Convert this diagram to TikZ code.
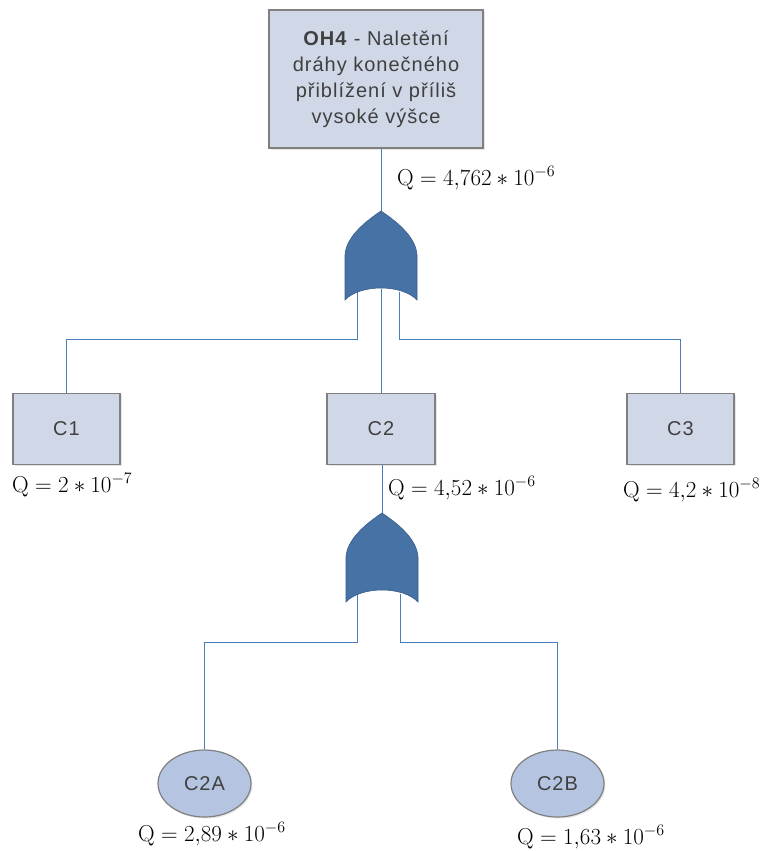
\documentclass[tikz,border=0pt]{standalone}
\usepackage[no-math]{fontspec}
\newfontfamily\boxfont[LetterSpace=5]{Liberation Sans}
\usetikzlibrary{shapes.geometric,shadows}

\definecolor{linkblue}{HTML}{4A7EBB}
\definecolor{gatefill}{HTML}{4672A6}
\definecolor{gateedge}{HTML}{3A5E88}
\definecolor{boxfill}{HTML}{D0D8E8}
\definecolor{boxline}{HTML}{808080}
\definecolor{basicfill}{HTML}{B4C4E1}
\definecolor{txt}{HTML}{404040}

% probability value, set a little larger than the nearest math size
\newcommand\qval[1]{\scalebox{1.11}{$\mathrm{Q} = #1$}}

\begin{document}
\begin{tikzpicture}[x=1pt,y=-1pt,
  event/.style={draw=boxline, line width=1.2pt, fill=boxfill, text=txt,
    font=\boxfont\fontsize{20}{26}\selectfont, align=center, inner sep=0pt,
    drop shadow={shadow xshift=1.5pt, shadow yshift=-1.5pt, opacity=0.2}},
  basic/.style={ellipse, draw=boxline, line width=1.2pt, fill=basicfill, text=txt,
    font=\boxfont\fontsize{20}{24}\selectfont, inner sep=0pt,
    minimum width=93pt, minimum height=67pt,
    drop shadow={shadow xshift=1.5pt, shadow yshift=-1.5pt, opacity=0.2}},
  link/.style={draw=linkblue, line width=1pt},
  prob/.style={font=\fontsize{20}{24}\selectfont, anchor=base west, inner sep=0pt},
  gate/.style={fill=gatefill, draw=gateedge, line width=0.6pt},
  orgate/.pic={
    \path[gate] (0,0) .. controls (-18,12) and (-35,27) .. (-36,44)
      -- (-36,89) .. controls (-21,73) and (21,73) .. (36,89)
      -- (36,44) .. controls (35,27) and (18,12) .. (0,0) -- cycle;
  }]
\useasboundingbox (0,0) rectangle (763,851);

% events
\node[event, minimum width=214pt, minimum height=138pt] (top) at (376,79)
  {\textbf{OH4} - Naletění\\dráhy konečného\\přiblížení v příliš\\vysoké výšce};
\node[event, minimum width=107pt, minimum height=71pt] (c1) at (66.5,429) {C1};
\node[event, minimum width=108pt, minimum height=71pt] (c2) at (381,429) {C2};
\node[event, minimum width=107pt, minimum height=71pt] (c3) at (680.5,429) {C3};
\node[basic] (c2a) at (204.5,783.5) {C2A};
\node[basic] (c2b) at (557.5,783.5) {C2B};

% gate terminals
\coordinate (g1out) at (381,211);
\coordinate (g1inL) at (357,292);
\coordinate (g1inM) at (381,289);
\coordinate (g1inR) at (399,292);
\coordinate (g2out) at (382,513);
\coordinate (g2inL) at (357,594);
\coordinate (g2inR) at (400,594);

% connectors
\draw[link] (top.south -| g1out) -- (g1out);
\draw[link] (g1inL) -- ++(0,47) -| (c1.north);
\draw[link] (g1inM) -- (g1inM |- c2.north);
\draw[link] (g1inR) -- ++(0,47) -| (c3.north);
\draw[link] (c2.south -| g2out) -- (g2out);
\draw[link] (g2inL) -- ++(0,48) -| (c2a.north);
\draw[link] (g2inR) -- ++(0,48) -| (c2b.north);

% OR gates
\pic at (g1out) {orgate};
\pic at (g2out) {orgate};

% probabilities
\node[prob] (q0) at (397,185) {\qval{4{,}762 \ast 10^{-6}}};
\node[prob] (q1) at (12,492) {\qval{2 \ast 10^{-7}}};
\node[prob] (q2) at (388,495) {\qval{4{,}52 \ast 10^{-6}}};
\node[prob] (q3) at (623,497) {\qval{4{,}2 \ast 10^{-8}}};
\node[prob] (q2a) at (138,841) {\qval{2{,}89 \ast 10^{-6}}};
\node[prob] (q2b) at (517,844) {\qval{1{,}63 \ast 10^{-6}}};
\end{tikzpicture}
\end{document}
